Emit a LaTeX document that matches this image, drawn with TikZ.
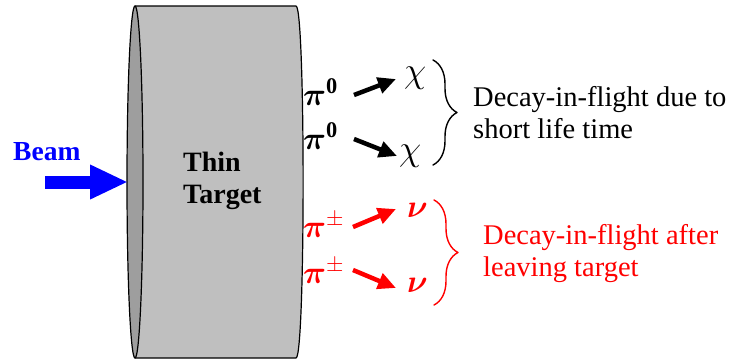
\RequirePackage{fix-cm}
\documentclass[tikz,border=0pt]{standalone}
\usepackage{amsmath}
\usepackage{fontspec}
\setmainfont{Liberation Serif}
\usetikzlibrary{arrows.meta,decorations.pathreplacing}

\definecolor{bodygray}{gray}{0.75}
\definecolor{facegray}{gray}{0.62}

\begin{document}
\begin{tikzpicture}[x=1pt,y=-1pt,line cap=round,line join=round,
  txt/.style={inner sep=0pt,anchor=base west,font=\fontsize{28.5}{32}\selectfont},
  sym/.style={inner sep=0pt,anchor=base west,font=\fontsize{32}{36}\selectfont},
  pointer/.style={line width=4.5pt,line cap=butt,-{Triangle[length=18pt,width=16pt]}},
  curly/.style={line width=1.4pt,decorate,decoration={brace,amplitude=24pt}}]
  \useasboundingbox (0,0) rectangle (734,359);
  % target
  \draw[line width=1.2pt,fill=bodygray] (135,6) -- (296,6) .. controls (305.5,6) and (305.5,358) .. (296,358) -- (135,358) -- cycle;
  \draw[line width=1.2pt,fill=facegray] (135,182) ellipse [x radius=8,y radius=176];
  \node[txt,font=\fontsize{28}{32}\bfseries,align=left,anchor=north west] (target) at (183,152) {Thin\\Target};
  % beam
  \node[txt,font=\fontsize{27.5}{32}\bfseries,blue] (beam) at (13,160) {Beam};
  \coordinate (beamtail) at (45,182); \coordinate (face) at (128,182);
  \draw[blue,line width=13pt,line cap=butt,-{Triangle[length=38pt,width=32pt]}] (beamtail) -- (face);
  % neutral pions
  \node[sym] (pizA) at (303,105) {$\boldsymbol{\pi}^{\mathbf{0}}$};
  \node[sym] (pizB) at (303,149) {$\boldsymbol{\pi}^{\mathbf{0}}$};
  \node[sym,font=\fontsize{36}{40}\selectfont] (chiA) at (404,82) {$\chi$};
  \node[sym,font=\fontsize{36}{40}\selectfont] (chiB) at (399,160) {$\chi$};
  \coordinate (a1) at (354,95); \coordinate (b1) at (396,79);
  \coordinate (a2) at (354,139); \coordinate (b2) at (397,156);
  \draw[pointer] (a1) -- (b1); \draw[pointer] (a2) -- (b2);
  \coordinate (bt1) at (433,60); \coordinate (bb1) at (433,165);
  \draw[curly] (bt1) -- (bb1);
  \node[txt,align=left,anchor=north west] (short) at (473,86) {Decay-in-flight due to\\short life time};
  % charged pions
  \begin{scope}[red]
  \node[sym] (pipmA) at (303,237) {$\boldsymbol{\pi}^{\pm}$};
  \node[sym] (pipmB) at (303,283) {$\boldsymbol{\pi}^{\pm}$};
  \node[sym] (nuA) at (407,217) {$\boldsymbol{\nu}$};
  \node[sym] (nuB) at (407,292) {$\boldsymbol{\nu}$};
  \coordinate (a3) at (353,227); \coordinate (b3) at (396,209);
  \coordinate (a4) at (353,270); \coordinate (b4) at (396,288);
  \draw[pointer] (a3) -- (b3); \draw[pointer] (a4) -- (b4);
  \coordinate (bt2) at (434,200); \coordinate (bb2) at (434,305);
  \draw[curly] (bt2) -- (bb2);
  \node[txt,align=left,anchor=north west] (leaving) at (483,224) {Decay-in-flight after\\leaving target};
  \end{scope}
\end{tikzpicture}
\end{document}
